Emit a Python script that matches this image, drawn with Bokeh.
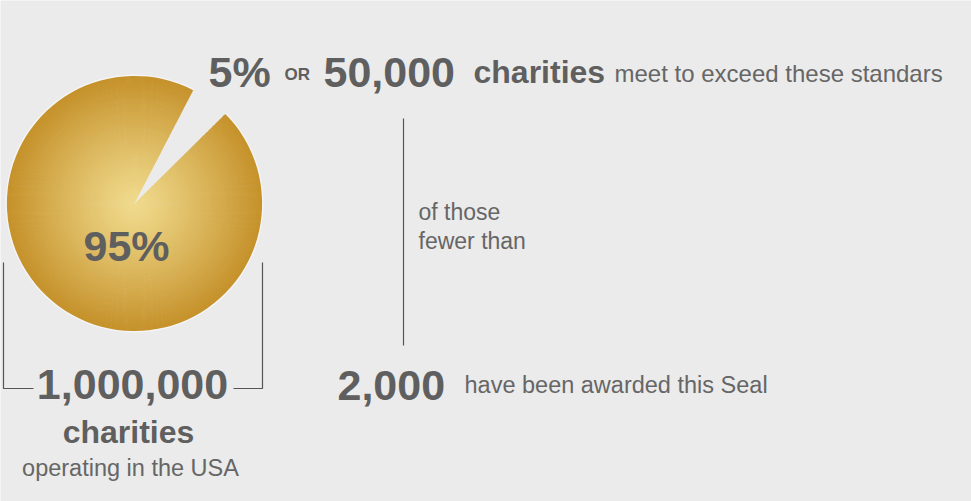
import numpy as np
from bokeh.plotting import figure
from bokeh.models import Range1d
from bokeh.core.properties import value
from bokeh.embed import file_html
from bokeh.resources import INLINE

# ---- data ----
slice_labels = ["95%", "5%"]
slice_shares = [95, 5]
total_charities = 1000000
standard_charities = 50000
seal_charities = 2000
connector_word = "OR"
unit_word = "charities"
top_caption = "meet to exceed these standars"
mid_caption = ["of those", "fewer than"]
seal_caption = "have been awarded this Seal"
usa_caption = "operating in the USA"

BG = "#ebebeb"
DARK = "#5f5f5f"
TXT = "#666666"
BIG_FONT = value("Liberation Sans")
SANS = value("Liberation Sans")

W, H = 971, 501
p = figure(width=W, height=H, output_backend="svg", toolbar_location=None,
           x_range=Range1d(0, W), y_range=Range1d(0, H),
           min_border=0, background_fill_color=BG, border_fill_color=BG,
           outline_line_color=None)
p.axis.visible = False
p.grid.visible = False

def Y(s):
    return 501 - s

# ---- pie ----
cx, cy, R = 134, Y(203), 127
gap_start_cw = 27.4  # degrees clockwise from top where the small slice begins
shares = np.array(slice_shares, dtype=float)
frac = shares / shares.sum()
small_sweep = frac[1] * 360.0
big_sweep = frac[0] * 360.0
big_start_cw = gap_start_cw + small_sweep
start = np.deg2rad(90 - big_start_cw)
end = np.deg2rad(90 - big_start_cw - big_sweep)

# glow
p.wedge(x=[cx], y=[cy], radius=R + 2, start_angle=[start], end_angle=[end],
        direction="clock", fill_color="#f5f5f5", line_color=None)

c0 = np.array([0xf0, 0xda, 0x8c], dtype=float)
c1 = np.array([0xc5, 0x91, 0x2a], dtype=float)
N = 64
for i in range(N):
    r_in = R * i / N
    r_out = R * (i + 1) / N
    t = ((i + 0.5) / N) ** 1.15
    c = c0 + (c1 - c0) * t
    col = "#%02x%02x%02x" % tuple(int(round(v)) for v in c)
    p.annular_wedge(x=[cx], y=[cy], inner_radius=r_in, outer_radius=r_out + 0.6,
                    start_angle=[start], end_angle=[end], direction="clock",
                    fill_color=col, line_color=None)

def txt(x, y, s, size, font, style="normal", align="left", color=DARK):
    shift = 0.36 * size
    p.text(x=[x], y=[Y(y - shift)], text=[s], text_font=font, text_font_size=f"{size}px",
           text_font_style=style, text_align=align, text_baseline="alphabetic",
           text_color=color)

BIG = 43
# pie label
txt(126, 261, slice_labels[0], BIG, BIG_FONT, "bold", "center")

# top row
txt(208, 87, slice_labels[1], BIG, BIG_FONT, "bold")
txt(284, 80, connector_word, 17, BIG_FONT, "bold")
txt(323, 87, f"{standard_charities:,}", BIG, BIG_FONT, "bold")
txt(473, 83, unit_word, 32, SANS, "bold")
txt(614, 82, top_caption, 24, SANS, "normal", color=TXT)

# vertical connector
p.line(x=[403, 403], y=[Y(118), Y(345)], line_color="#555555", line_width=1.2)
txt(418, 220, mid_caption[0], 23, SANS, "normal", color=TXT)
txt(418, 249, mid_caption[1], 23, SANS, "normal", color=TXT)

# bottom row
txt(337, 400, f"{seal_charities:,}", BIG, BIG_FONT, "bold")
txt(464, 393, seal_caption, 23.5, SANS, "normal", color=TXT)

# bracket under pie
p.line(x=[3, 3, 33], y=[Y(262), Y(388), Y(388)], line_color="#555555", line_width=1.2)
p.line(x=[262, 262, 233], y=[Y(262), Y(388), Y(388)], line_color="#555555", line_width=1.2)
txt(132, 399, f"{total_charities:,}", BIG, BIG_FONT, "bold", "center")
txt(128, 443, unit_word, 32, SANS, "bold", "center")
txt(130, 476, usa_caption, 23.5, SANS, "normal", "center", color=TXT)

html = file_html(p, INLINE)
html = html.replace("<body>", f'<body style="background-color:{BG};margin:0;">', 1)
open("out.html", "w").write(html)
